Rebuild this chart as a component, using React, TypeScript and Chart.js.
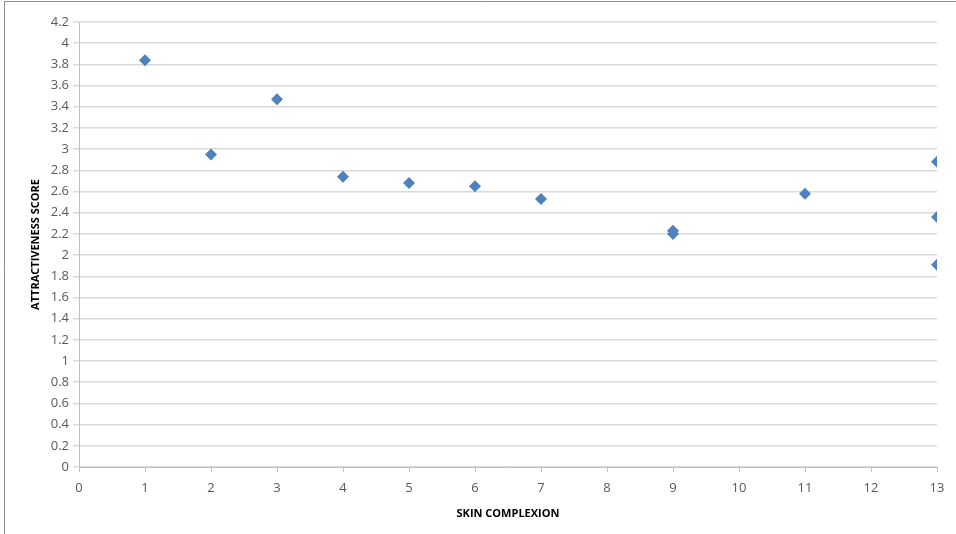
import React, { useEffect, useRef } from "react";
import { Chart, registerables } from "chart.js";

Chart.register(...registerables);

const xValues = [1, 2, 3, 4, 5, 6, 7, 9, 9, 11, 13, 13, 13];
const yValues = [3.84, 2.95, 3.47, 2.74, 2.68, 2.65, 2.53, 2.23, 2.2, 2.58, 2.88, 2.36, 1.91];
const xTitle = "SKIN COMPLEXION";
const yTitle = "ATTRACTIVENESS SCORE";

const framePlugin = {
  id: "frame",
  beforeDraw(chart: any) {
    const ctx = chart.ctx;
    ctx.save();
    ctx.fillStyle = "#ffffff";
    ctx.fillRect(0, 0, chart.width, chart.height);
    ctx.strokeStyle = "#8c8c8c";
    ctx.lineWidth = 1;
    ctx.beginPath();
    ctx.moveTo(4.5, chart.height);
    ctx.lineTo(4.5, 1.5);
    ctx.lineTo(chart.width, 1.5);
    ctx.stroke();
    ctx.restore();
  },
};

export default function App() {
  const ref = useRef<HTMLCanvasElement>(null);
  useEffect(() => {
    document.body.style.margin = "0";
    const data = xValues.map((x, i) => ({ x, y: yValues[i] }));
    const font = "'Open Sans', 'Liberation Sans', sans-serif";
    const chart = new Chart(ref.current as HTMLCanvasElement, {
      type: "scatter",
      data: {
        datasets: [
          {
            data,
            pointStyle: "rectRot",
            pointRadius: 6,
            backgroundColor: "#4F81BD",
            borderColor: "#4F81BD",
            borderWidth: 0,
          },
        ],
      },
      plugins: [framePlugin],
      options: {
        animation: false,
        responsive: false,
        maintainAspectRatio: false,
        layout: { padding: { left: 29, right: 19, top: 22, bottom: 14 } },
        plugins: { legend: { display: false }, tooltip: { enabled: false } },
        scales: {
          x: {
            type: "linear",
            min: 0,
            max: 13,
            afterFit: (s: any) => { s.height = 53; },
            ticks: { stepSize: 1, color: "#595959", font: { family: font, size: 13 }, padding: 8, maxRotation: 0 },
            grid: { drawOnChartArea: false, drawTicks: true, tickLength: 5, color: "#bfbfbf" },
            border: { display: true, color: "#bfbfbf", width: 1 },
            title: { display: true, text: xTitle, color: "#000", font: { family: font, size: 11, weight: "bold" }, padding: { top: 0, bottom: 0 } },
          },
          y: {
            type: "linear",
            min: 0,
            max: 4.2,
            afterFit: (s: any) => { s.width = 50; },
            ticks: { stepSize: 0.2, color: "#595959", font: { family: font, size: 13 }, padding: 4,
              callback: (v: any) => String(Math.round(Number(v) * 10) / 10) },
            grid: { color: "#d9d9d9", lineWidth: 1.5, tickLength: 6 },
            border: { display: true, color: "#bfbfbf", width: 1 },
            title: { display: true, text: yTitle, color: "#000", font: { family: font, size: 11, weight: "bold" }, padding: 0 },
          },
        },
      },
    } as any);
    return () => chart.destroy();
  }, []);
  return <canvas ref={ref} width={956} height={534} style={{ display: "block" }} />;
}
